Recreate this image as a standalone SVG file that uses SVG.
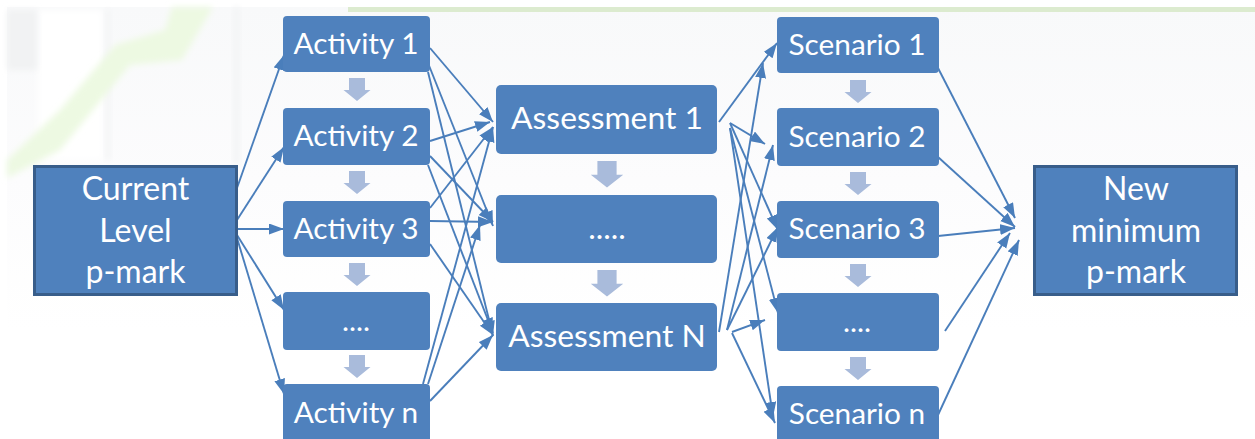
<svg xmlns="http://www.w3.org/2000/svg" width="1255" height="439" viewBox="0 0 1255 439">
<style>
.n{fill:#4f81bd}
.b{fill:#4f81bd;stroke:#385d8a;stroke-width:3}
text{font-family:Lato,"Open Sans",sans-serif;fill:#fff;text-anchor:middle}
.s{font-size:29.800px}
.m{font-size:31.800px}
.l{font-size:32px}
.c line{stroke:#4a7ebb;stroke-width:1.9;marker-end:url(#a)}
.d{fill:#a9bbdb}
</style>
<defs>
<marker id="a" markerUnits="userSpaceOnUse" markerWidth="16" markerHeight="12" refX="15" refY="5.500" orient="auto"><path d="M0 0L15 5.500L0 11z" fill="#4a7ebb"/></marker>
<path id="da" d="M-8 0H8V12H13.500L0 23L-13.500 12H-8z" class="d"/>
<linearGradient id="bg" x1="0" y1="0" x2="0" y2="1"><stop offset="0" stop-color="#f8f9fa"/><stop offset="0.4" stop-color="#fcfcfd"/><stop offset="0.75" stop-color="#fff"/></linearGradient>
<filter id="bl" x="-20%" y="-20%" width="140%" height="140%"><feGaussianBlur stdDeviation="3"/></filter>
</defs>
<rect width="1255" height="439" fill="#fff"/>
<g id="background">
<rect x="7" y="7" width="1248" height="432" fill="url(#bg)"/>
<rect x="38" y="10" width="65" height="150" fill="#fff" filter="url(#bl)"/>
<rect x="7" y="10" width="30" height="60" fill="#f1f2f3" filter="url(#bl)"/>
<rect x="105" y="10" width="6" height="150" fill="#f4f5f6" filter="url(#bl)"/>
<rect x="233" y="7" width="7" height="158" fill="#f3f4f5" filter="url(#bl)"/>
<path d="M172 7H213L182 60L130 65L60 150L7 178V160L60 110L115 45L165 30z" fill="#edf9e2" filter="url(#bl)"/>
<rect x="348" y="7" width="907" height="5" fill="#dcebcf"/>
</g>
<g id="connectors" class="c">
<line x1="237" y1="188" x2="284" y2="55"/>
<line x1="237" y1="220" x2="284" y2="147"/>
<line x1="237" y1="229" x2="284" y2="229"/>
<line x1="237" y1="235" x2="284" y2="310"/>
<line x1="237" y1="238" x2="284" y2="394"/>
<line x1="430" y1="48" x2="493" y2="122"/>
<line x1="428" y1="63" x2="493" y2="226"/>
<line x1="428" y1="72" x2="493" y2="336"/>
<line x1="430" y1="141" x2="490" y2="122"/>
<line x1="430" y1="156" x2="493" y2="222"/>
<line x1="428" y1="165" x2="493" y2="333"/>
<line x1="430" y1="221" x2="493" y2="222"/>
<line x1="430" y1="208" x2="493" y2="127"/>
<line x1="430" y1="244" x2="493" y2="335"/>
<line x1="423" y1="384" x2="493" y2="127"/>
<line x1="428" y1="384" x2="480" y2="225"/>
<line x1="430" y1="401" x2="493" y2="335"/>
<line x1="719" y1="122" x2="777" y2="43"/>
<line x1="730" y1="123" x2="765" y2="144"/>
<line x1="730" y1="123" x2="778" y2="230"/>
<line x1="730" y1="128" x2="778" y2="313"/>
<line x1="730" y1="128" x2="773" y2="417"/>
<line x1="719" y1="332" x2="763" y2="63"/>
<line x1="727" y1="330" x2="773" y2="145"/>
<line x1="727" y1="330" x2="778" y2="227"/>
<line x1="732" y1="332" x2="765" y2="320"/>
<line x1="732" y1="333" x2="775" y2="423"/>
<line x1="938" y1="68" x2="1015" y2="218"/>
<line x1="938" y1="157" x2="1015" y2="227"/>
<line x1="938" y1="236" x2="1015" y2="228"/>
<line x1="945" y1="331" x2="1010" y2="233"/>
<line x1="938" y1="415" x2="1019" y2="240"/>
</g>
<g id="down-arrows">
<use href="#da" x="357" y="78"/><use href="#da" x="357" y="171"/><use href="#da" x="357" y="263"/><use href="#da" x="357" y="355"/>
<use href="#da" transform="translate(607 161) scale(1.2 1.15)"/><use href="#da" transform="translate(607 270) scale(1.2 1.15)"/>
<use href="#da" x="858" y="80"/><use href="#da" x="858" y="172"/><use href="#da" x="858" y="264"/><use href="#da" x="858" y="357"/>
</g>
<g id="current"><rect class="b" x="34.500" y="166.500" width="202" height="128"/><text class="l" x="135.500" y="200">Current</text><text class="l" x="135.500" y="242">Level</text><text class="l" x="135.500" y="283">p-mark</text></g>
<g id="activity1"><rect class="n" x="283" y="16" width="147" height="56" rx="4"/><text class="s" x="356" y="54">Activity 1</text></g>
<g id="activity2"><rect class="n" x="283" y="108" width="147" height="57" rx="4"/><text class="s" x="356" y="146">Activity 2</text></g>
<g id="activity3"><rect class="n" x="283" y="201" width="147" height="56" rx="4"/><text class="s" x="356" y="239">Activity 3</text></g>
<g id="activity4"><rect class="n" x="283" y="292" width="147" height="58" rx="4"/><text class="s" x="356" y="331">....</text></g>
<g id="activityn"><rect class="n" x="283" y="384" width="147" height="60" rx="4"/><text class="s" x="356" y="423">Activity n</text></g>
<g id="assessment1"><rect class="n" x="496" y="85" width="221" height="69" rx="5"/><text class="m" x="607" y="129">Assessment 1</text></g>
<g id="assessment2"><rect class="n" x="496" y="195" width="221" height="68" rx="5"/><text class="m" x="607" y="239">.....</text></g>
<g id="assessmentn"><rect class="n" x="496" y="303" width="221" height="68" rx="5"/><text class="m" x="607" y="347">Assessment N</text></g>
<g id="scenario1"><rect class="n" x="777" y="17" width="162" height="56" rx="4"/><text class="s" x="857" y="55">Scenario 1</text></g>
<g id="scenario2"><rect class="n" x="777" y="108" width="162" height="58" rx="4"/><text class="s" x="857" y="147">Scenario 2</text></g>
<g id="scenario3"><rect class="n" x="777" y="201" width="162" height="57" rx="4"/><text class="s" x="857" y="239">Scenario 3</text></g>
<g id="scenario4"><rect class="n" x="777" y="293" width="162" height="58" rx="4"/><text class="s" x="857" y="332">....</text></g>
<g id="scenarion"><rect class="n" x="777" y="386" width="162" height="60" rx="4"/><text class="s" x="857" y="424">Scenario n</text></g>
<g id="new"><rect class="b" x="1034.500" y="166.500" width="202" height="128"/><text class="l" x="1136" y="200">New</text><text class="l" x="1136" y="242">minimum</text><text class="l" x="1136" y="283">p-mark</text></g>
</svg>
